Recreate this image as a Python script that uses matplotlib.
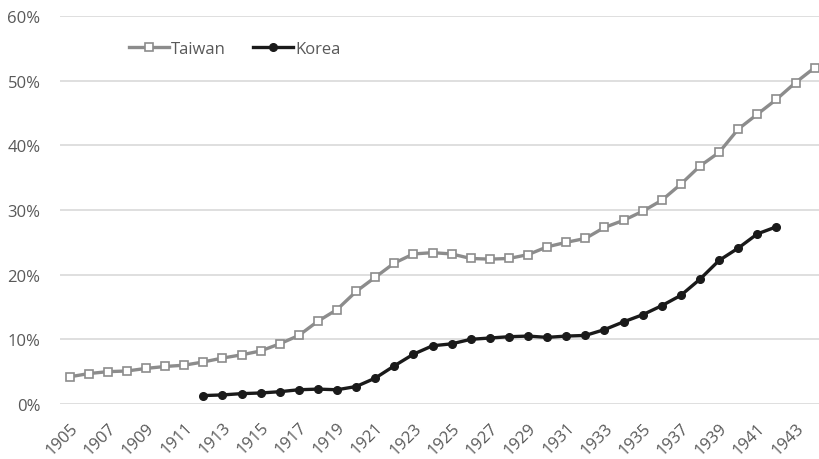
import matplotlib.pyplot as plt
from matplotlib.ticker import PercentFormatter

plt.rcParams['font.family'] = ['Open Sans', 'DejaVu Sans']

# share of population, years 1905-1944
years = list(range(1905, 1945))
taiwan = [4.2, 4.7, 5.0, 5.1, 5.5, 5.8, 6.0, 6.5, 7.1, 7.6,
          8.2, 9.3, 10.6, 12.8, 14.6, 17.4, 19.6, 21.8, 23.2, 23.4,
          23.2, 22.5, 22.4, 22.5, 23.1, 24.3, 25.0, 25.6, 27.3, 28.4,
          29.8, 31.5, 34.0, 36.8, 38.9, 42.5, 44.8, 47.1, 49.7, 52.0]
korea_years = list(range(1912, 1943))
korea = [1.3, 1.4, 1.6, 1.7, 1.9, 2.2, 2.3, 2.2, 2.7, 4.0,
         5.9, 7.7, 9.0, 9.3, 10.0, 10.2, 10.4, 10.5, 10.3, 10.5,
         10.6, 11.5, 12.7, 13.8, 15.2, 16.8, 19.3, 22.2, 24.1, 26.3, 27.4]
tick_labels = [str(y) for y in range(1905, 1945, 2)]

txt = '#595959'
fig = plt.figure(figsize=(8.19, 4.6), dpi=100)
ax = fig.add_axes([0.0733, 0.1196, 0.933, 0.8435])

tx = [y - 1905 for y in years]
kx = [y - 1905 for y in korea_years]
ax.plot(tx, taiwan, color='#8c8c8c', lw=2.4, marker='s', ms=5.5,
        mfc='white', mec='#8c8c8c', mew=1.2, label='Taiwan', zorder=3)
ax.plot(kx, korea, color='#1a1a1a', lw=2.4, marker='o', ms=5.5,
        mfc='#1a1a1a', mec='#1a1a1a', label='Korea', zorder=3)

ax.set_xlim(-0.5, 39.5)
ax.set_ylim(0, 60)
ax.set_yticks(range(0, 61, 10))
ax.yaxis.set_major_formatter(PercentFormatter(decimals=0))
ax.set_xticks(range(0, 40, 2))
ax.set_xticklabels(tick_labels, rotation=45, ha='right', va='top',
                   rotation_mode='anchor')
ax.tick_params(axis='both', length=0, labelsize=12, colors=txt)
ax.tick_params(axis='x', pad=11)
ax.tick_params(axis='y', pad=14)
ax.grid(axis='y', color='#d9d9d9', lw=1.2)
ax.set_axisbelow(True)
for s in ax.spines.values():
    s.set_visible(False)

leg = ax.legend(loc='upper left', bbox_to_anchor=(0.07, 0.975), ncol=2,
                frameon=False, fontsize=12, handlelength=2.4,
                handletextpad=0.15, columnspacing=1.6)
for t in leg.get_texts():
    t.set_color(txt)

fig.savefig('out.png', dpi=100)
